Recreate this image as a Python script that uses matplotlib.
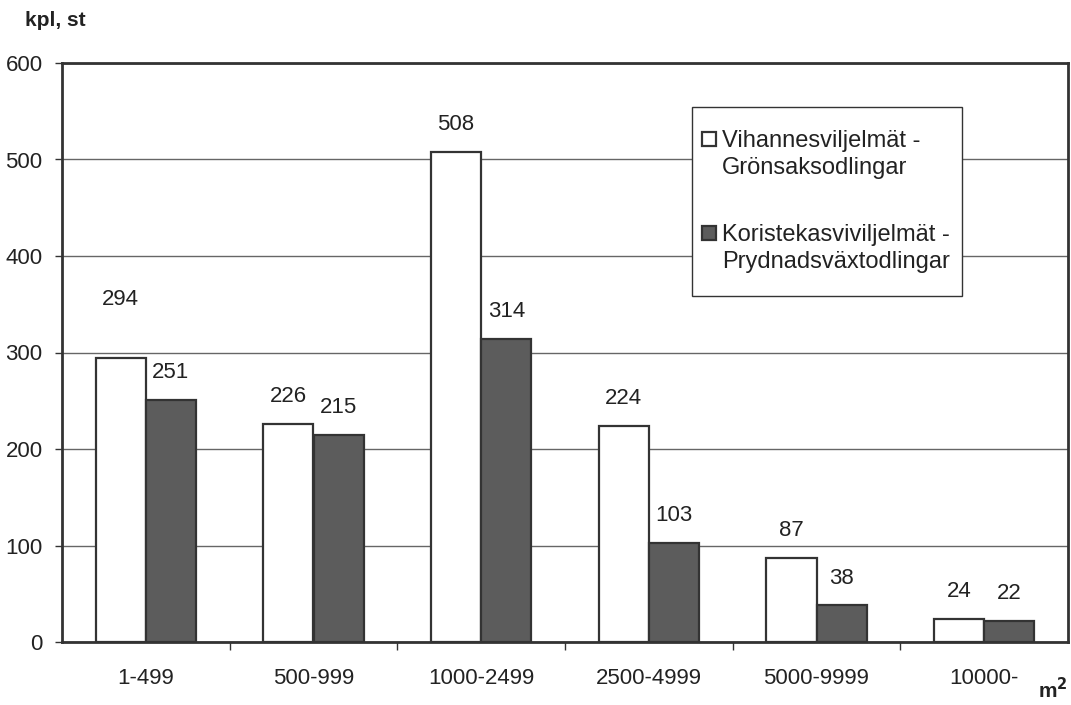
import numpy as np
import matplotlib.pyplot as plt
from matplotlib.patches import Rectangle

plt.rcParams['font.family'] = ['Liberation Sans', 'DejaVu Sans']

# data
categories = ["1-499", "500-999", "1000-2499", "2500-4999", "5000-9999", "10000-"]
vegetables = [294, 226, 508, 224, 87, 24]
ornamentals = [251, 215, 314, 103, 38, 22]
label_veg = ["Vihannesviljelmät -", "Grönsaksodlingar"]
label_orn = ["Koristekasviviljelmät -", "Prydnadsväxtodlingar"]

W, H = 1071, 705
fig = plt.figure(figsize=(W / 100, H / 100), dpi=100)
ax = fig.add_axes([62 / W, 63 / H, (1068 - 62) / W, (642 - 63) / H])

x = np.arange(len(categories))
w = 0.3
dark = '#5c5c5c'
edge = '#333333'
ax.bar(x - w / 2, vegetables, w, color='white', edgecolor=edge, linewidth=1.6, zorder=3)
ax.bar(x + w / 2, ornamentals, w, color=dark, edgecolor=edge, linewidth=1.6, zorder=3)

# value labels
for i, v in enumerate(vegetables):
    off = 42 if i == 0 else 19.5
    ax.annotate(str(v), (x[i] - w / 2, v), xytext=(0, off), textcoords='offset points',
                ha='center', va='center', fontsize=16, color='#222222')
for i, v in enumerate(ornamentals):
    ax.annotate(str(v), (x[i] + w / 2, v), xytext=(0, 19.5), textcoords='offset points',
                ha='center', va='center', fontsize=16, color='#222222')

ax.set_xlim(-0.5, len(categories) - 0.5)
ax.set_ylim(0, 600)
ax.set_yticks(range(0, 601, 100))
ax.yaxis.grid(True, color='#666666', linewidth=1, zorder=0)
ax.set_axisbelow(True)

ax.set_xticks(x)
ax.set_xticklabels(categories, fontsize=16, color='#222222')
ax.set_xticks(np.arange(0.5, len(categories) - 0.5, 1), minor=True)
ax.tick_params(axis='x', which='major', length=0, pad=19)
ax.tick_params(axis='x', which='minor', length=6, width=1, color=edge, direction='out')
ax.tick_params(axis='y', labelsize=16, labelcolor='#222222', length=5, width=1, color=edge, pad=9)

for s in ax.spines.values():
    s.set_color(edge)
    s.set_linewidth(2)

fig.text(25 / W, 1 - 21 / H, "kpl, st", fontsize=15, fontweight='bold', va='center', ha='left', color='#222222')
fig.text(1038 / W, 1 - 690 / H, "m$^{\\mathbf{2}}$", fontsize=15, fontweight='bold', va='center', ha='left', color='#222222')

# legend box drawn in figure pixel positions
def fx(px):
    return px / W

def fy(py):
    return 1 - py / H

fig.patches.append(Rectangle((fx(692), fy(296)), fx(962) - fx(692), fy(107) - fy(296),
                             transform=fig.transFigure, facecolor='white', edgecolor=edge,
                             linewidth=1, zorder=5))
for (lines, color, ytop) in [(label_veg, 'white', 132), (label_orn, dark, 226)]:
    fig.patches.append(Rectangle((fx(702), fy(ytop + 14)), fx(716) - fx(702), fy(ytop) - fy(ytop + 14),
                                 transform=fig.transFigure, facecolor=color, edgecolor=edge,
                                 linewidth=1.6, zorder=6))
    for k, line in enumerate(lines):
        fig.text(fx(722), fy(ytop + 9 + 27 * k), line, fontsize=17, va='center', ha='left',
                 color='#222222', zorder=7)

fig.savefig("out.png", dpi=100)
